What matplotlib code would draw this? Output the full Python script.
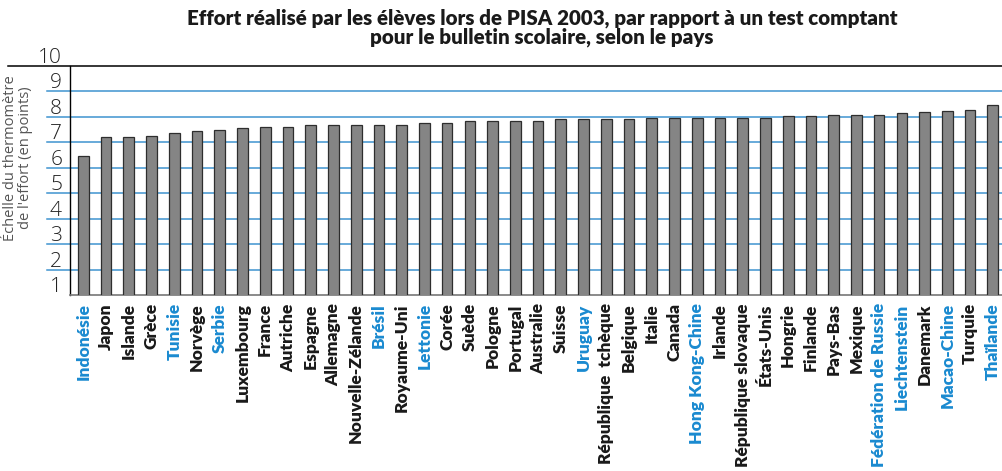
import matplotlib
matplotlib.use("Agg")
import matplotlib.pyplot as plt
import matplotlib.transforms as mtransforms

plt.rcParams['font.family'] = ['Lato', 'DejaVu Sans']

# Données
pays = ["Indonésie", "Japon", "Islande", "Grèce", "Tunisie", "Norvège", "Serbie",
        "Luxembourg", "France", "Autriche", "Espagne", "Allemagne", "Nouvelle-Zélande",
        "Brésil", "Royaume-Uni", "Lettonie", "Corée", "Suède", "Pologne", "Portugal",
        "Australie", "Suisse", "Uruguay", "République  tchèque", "Belgique", "Italie",
        "Canada", "Hong Kong-Chine", "Irlande", "République slovaque", "États-Unis",
        "Hongrie", "Finlande", "Pays-Bas", "Mexique", "Fédération de Russie",
        "Liechtenstein", "Danemark", "Macao-Chine", "Turquie", "Thaïlande"]
effort = [6.47, 7.22, 7.22, 7.26, 7.37, 7.44, 7.48, 7.55, 7.59, 7.59, 7.69, 7.69, 7.69,
          7.69, 7.69, 7.76, 7.76, 7.82, 7.82, 7.82, 7.82, 7.91, 7.91, 7.91, 7.91, 7.96,
          7.95, 7.95, 7.95, 7.95, 7.95, 8.02, 8.02, 8.06, 8.06, 8.06, 8.14, 8.18, 8.24,
          8.28, 8.45]
partenaires = ["Indonésie", "Tunisie", "Serbie", "Brésil", "Lettonie", "Uruguay",
               "Hong Kong-Chine", "Fédération de Russie", "Liechtenstein",
               "Macao-Chine", "Thaïlande"]
graduations = list(range(1, 11))

fig = plt.figure(figsize=(10.02, 4.71), dpi=100)
ax = fig.add_axes([0.0699, 0.3737, 0.93, 0.4862])

x = list(range(len(pays)))
ax.bar(x, effort, width=0.47, color="#858585", edgecolor="#2e2e2e", linewidth=0.9, zorder=3)

ax.set_xlim(-0.585, len(pays) - 0.6)
ax.set_ylim(1, 10)

# lignes de grille horizontales
for v in graduations[1:-1]:
    ax.axhline(v, xmin=-0.025, xmax=1, color="#3f93cf", lw=1.1, clip_on=False, zorder=1)
ax.axhline(10, xmin=-0.067, xmax=1, color="black", lw=1.1, clip_on=False, zorder=2)

for s in ["top", "right"]:
    ax.spines[s].set_visible(False)
ax.spines["left"].set_color("black")
ax.spines["left"].set_linewidth(1.0)
ax.spines["bottom"].set_color("#777777")
ax.spines["bottom"].set_linewidth(1.2)

ax.set_yticks([])
trans = mtransforms.offset_copy(ax.get_yaxis_transform(), fig=fig, x=-8, y=3, units="dots")
for v in graduations:
    ax.text(0, v, str(v), transform=trans, ha="right", va="baseline",
            fontsize=15, color="#222222", fontweight="light",
            family=["Open Sans", "DejaVu Sans"])

ax.set_xticks(x)
ax.set_xticklabels(pays, rotation=90, fontsize=12.5, fontweight="heavy", va="top", ha="center")
for lab in ax.get_xticklabels():
    lab.set_color("#1a8ad0" if lab.get_text() in partenaires else "#1a1a1a")
ax.tick_params(axis="x", length=0, pad=6)

fig.text(0.0175, 0.665, "Échelle du thermomètre\nde l'effort (en points)", rotation=90,
         ha="center", va="center", fontsize=10.5, color="#555555", linespacing=1.0,
         family=["Open Sans", "DejaVu Sans"])

fig.text(0.541, 0.982, "Effort réalisé par les élèves lors de PISA 2003, par rapport à un test comptant\npour le bulletin scolaire, selon le pays",
         ha="center", va="top", fontsize=14.8, fontweight="heavy", color="#1a1a1a", linespacing=0.95)

fig.savefig("out.png", dpi=100)
